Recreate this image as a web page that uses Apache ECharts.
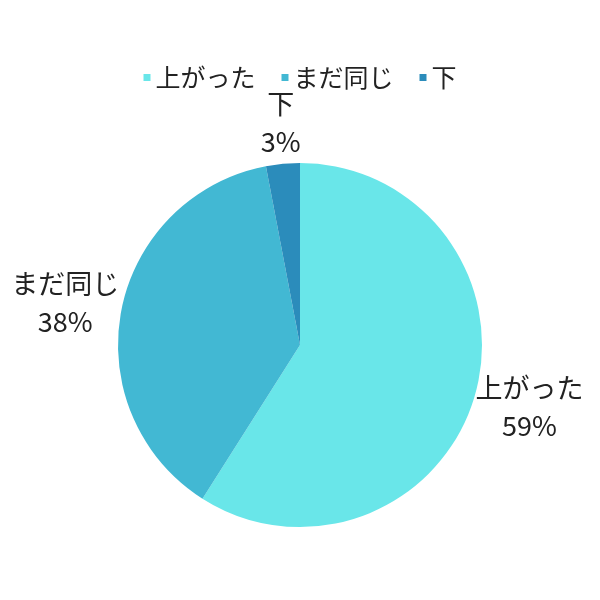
<!DOCTYPE html>
<html>
<head>
<meta charset="utf-8">
<script src="https://cdn.jsdelivr.net/npm/echarts@6/dist/echarts.min.js"></script>
<style>html,body{margin:0;padding:0;background:#fff}</style>
</head>
<body>
<div id="main" style="width:600px;height:600px;"></div>
<script type="text/javascript">
    var names   = ['上がった', 'まだ同じ', '下'];
    var values  = [59, 38, 3];
    var colors  = ['#69E6E9', '#42B8D3', '#2B8CBB'];

    var myChart = echarts.init(document.getElementById('main'));
    var pieData = [];
    for (var i = 0; i < names.length; i++) {
        pieData.push({ name: names[i], value: values[i] });
    }
    var font = '"Noto Sans CJK JP", "Noto Sans", sans-serif';

    // push each label out along its radial direction so the box just clears the pie
    function placeLabel(p) {
        var pts = p.labelLinePoints;
        if (!pts) return {};
        var dx = pts[1][0] - pts[0][0], dy = pts[1][1] - pts[0][1];
        var len = Math.sqrt(dx * dx + dy * dy) || 1;
        var ux = dx / len, uy = dy / len;
        var w = p.labelRect.width, h = p.labelRect.height;
        return {
            x: pts[1][0] + ux * w / 2,
            y: pts[1][1] + uy * h / 2,
            align: 'center',
            verticalAlign: 'middle'
        };
    }

    var option = {
        backgroundColor: '#ffffff',
        color: colors,
        legend: {
            top: 60, left: 'center',
            icon: 'rect', itemWidth: 7, itemHeight: 7, itemGap: 26,
            textStyle: { color: '#222', fontSize: 25, fontFamily: font },
            data: names
        },
        series: [{
            type: 'pie',
            center: [300, 345],
            radius: 182,
            startAngle: 90,
            clockwise: true,
            data: pieData,
            label: {
                show: true, position: 'outside',
                formatter: '{b}\n{d}%',
                color: '#222', fontSize: 27, lineHeight: 38, fontFamily: font,
                overflow: 'none'
            },
            labelLine: { show: true, length: 3, length2: 0, lineStyle: { opacity: 0 } },
            labelLayout: placeLabel,
            emphasis: { disabled: true }
        }]
    };
    myChart.setOption(option);
</script>
</body>
</html>
